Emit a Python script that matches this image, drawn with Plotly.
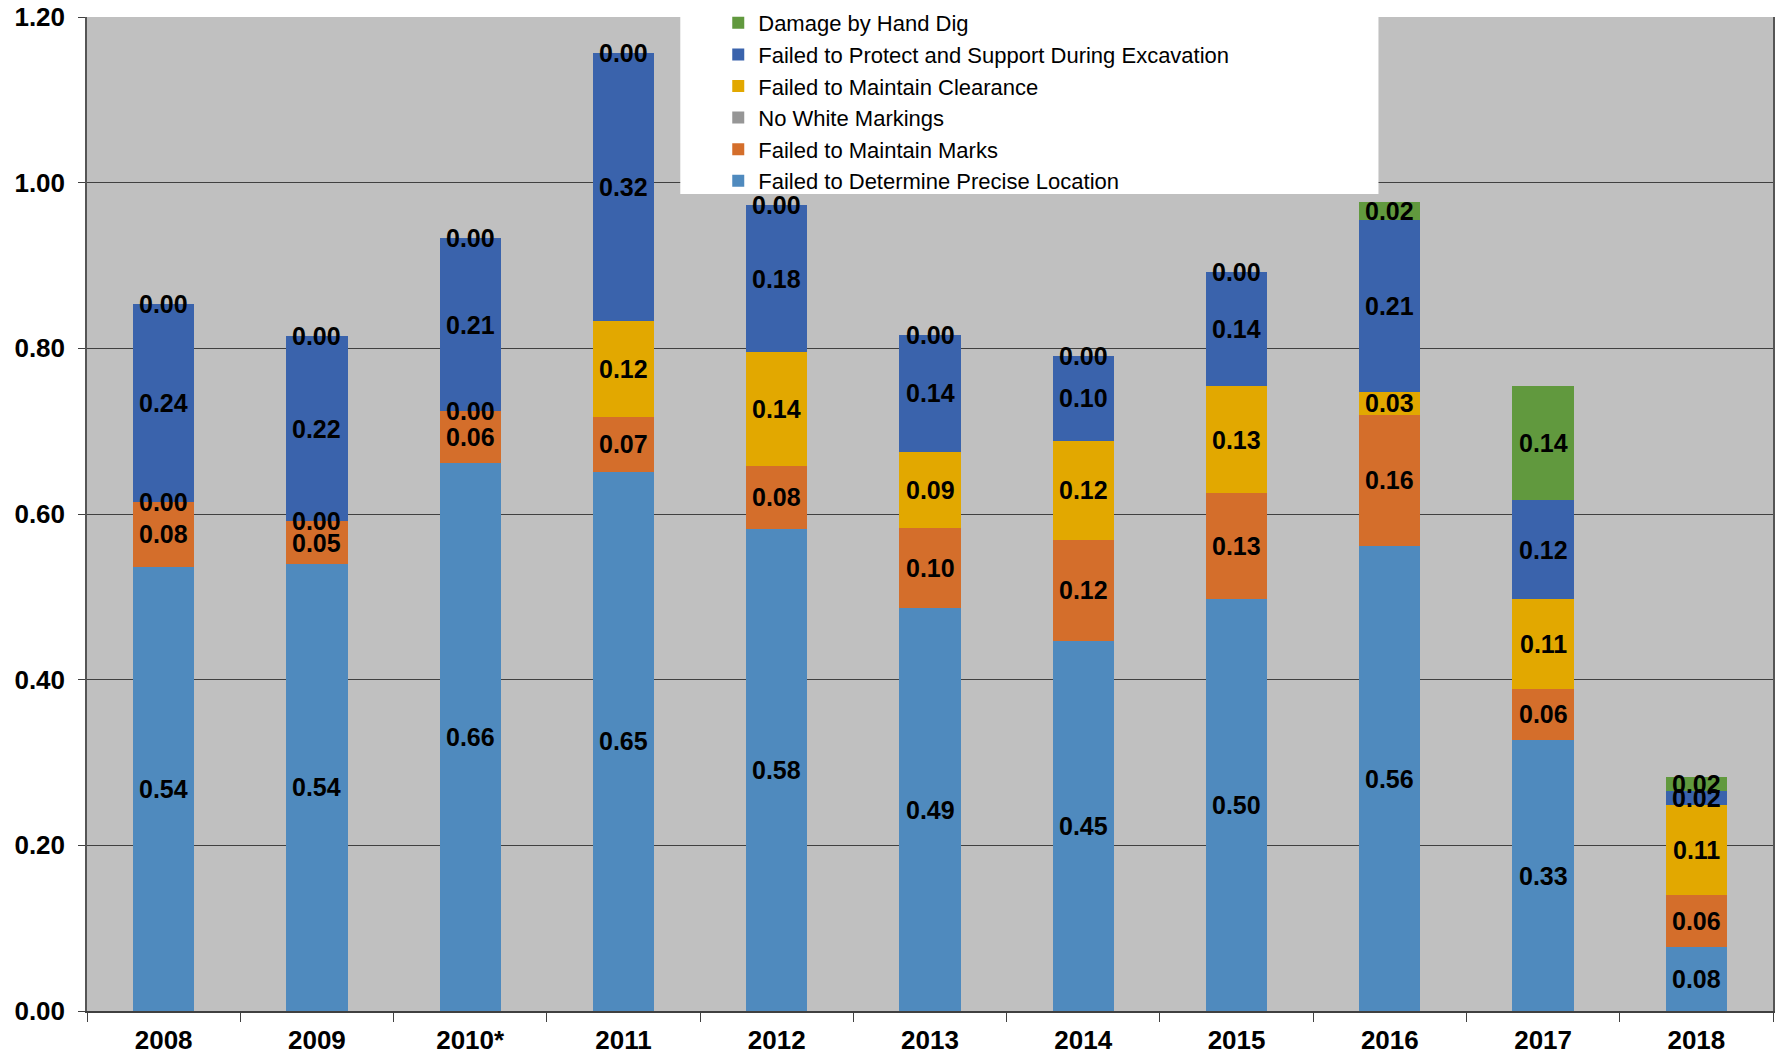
import plotly.graph_objects as go

years = ["2008", "2009", "2010*", "2011", "2012", "2013", "2014", "2015", "2016", "2017", "2018"]

precise_location = [0.536, 0.540, 0.662, 0.651, 0.582, 0.486, 0.447, 0.497, 0.561, 0.327, 0.077]
maintain_marks = [0.079, 0.051, 0.062, 0.066, 0.076, 0.097, 0.122, 0.128, 0.159, 0.062, 0.063]
no_white_markings = [None, None, None, None, None, None, None, None, None, None, None]
maintain_clearance = [0.0, 0.0, 0.0, 0.116, 0.137, 0.092, 0.119, 0.129, 0.027, 0.108, 0.109]
protect_support = [0.238, 0.224, 0.209, 0.324, 0.178, 0.141, 0.103, 0.138, 0.208, 0.120, 0.016]
hand_dig = [0.0, 0.0, 0.0, 0.0, 0.0, 0.0, 0.0, 0.0, 0.022, 0.137, 0.017]

y_ticks = [0.0, 0.2, 0.4, 0.6, 0.8, 1.0, 1.2]

series = [
    ("Failed to Determine Precise Location", precise_location, "#4F8ABE"),
    ("Failed to Maintain Marks", maintain_marks, "#D46E2B"),
    ("No White Markings", no_white_markings, "#969696"),
    ("Failed to Maintain Clearance", maintain_clearance, "#E2A800"),
    ("Failed to Protect and Support During Excavation", protect_support, "#3A63AC"),
    ("Damage by Hand Dig", hand_dig, "#61993E"),
]

FONT = "Liberation Sans, Arial, sans-serif"

fig = go.Figure()
annotations = []
base = [0.0] * len(years)
for name, vals, color in series:
    fig.add_trace(go.Bar(
        x=years, y=vals, name=name,
        marker=dict(color=color, line=dict(width=0)),
        width=0.4,
        hoverinfo="skip",
    ))
    for i, v in enumerate(vals):
        if v is None:
            continue
        annotations.append(dict(
            x=i, y=base[i] + v / 2, xref="x", yref="y",
            text=f"{v:.2f}", showarrow=False,
            font=dict(family=FONT, size=25, color="black", weight="bold"),
        ))
        base[i] += v

L, R, T, B = 87, 2, 17, 46
W, H = 1777, 1057
pw = W - L - R
ph = H - T - B

def px_x(px):
    return (px - L) / pw

def px_y(py):
    return (H - B - py) / ph

fig.update_layout(
    width=W, height=H,
    barmode="stack",
    paper_bgcolor="white",
    plot_bgcolor="#C0C0C0",
    margin=dict(l=L, r=R, t=T, b=B, pad=0),
    font=dict(family=FONT, size=24, color="black"),
    annotations=annotations,
    showlegend=True,
    legend=dict(
        traceorder="reversed",
        x=px_x(719), y=px_y(2), xanchor="left", yanchor="top",
        bgcolor="rgba(0,0,0,0)",
        font=dict(family=FONT, size=22, color="black"),
        itemwidth=30,
        tracegroupgap=0,
    ),
    shapes=[dict(
        type="rect", xref="paper", yref="paper",
        x0=px_x(681), x1=px_x(1380), y0=px_y(194), y1=px_y(8),
        fillcolor="white", line=dict(width=0), layer="above",
    )],
    xaxis=dict(
        type="category",
        range=[-0.5, len(years) - 0.5],
        showline=True, linecolor="#404040", linewidth=1.5,
        ticks="outside", tickson="boundaries", ticklen=9, tickcolor="#404040",
        tickfont=dict(family=FONT, size=26, color="black", weight="bold"),
        ticklabelstandoff=5,
        showgrid=False,
    ),
    yaxis=dict(
        range=[0, 1.2],
        tickvals=y_ticks,
        tickformat=".2f",
        showline=True, linecolor="#555555", linewidth=1.5, mirror=True,
        ticks="outside", ticklen=7, tickcolor="#404040",
        tickfont=dict(family=FONT, size=26, color="black", weight="bold"),
        ticklabelstandoff=8,
        showgrid=True, gridcolor="#404040", gridwidth=1,
        zeroline=False,
    ),
)

fig.write_html(
    "out.html",
    config={"displayModeBar": False},
    post_script="document.body.style.margin='0';document.body.style.overflow='hidden';",
)
